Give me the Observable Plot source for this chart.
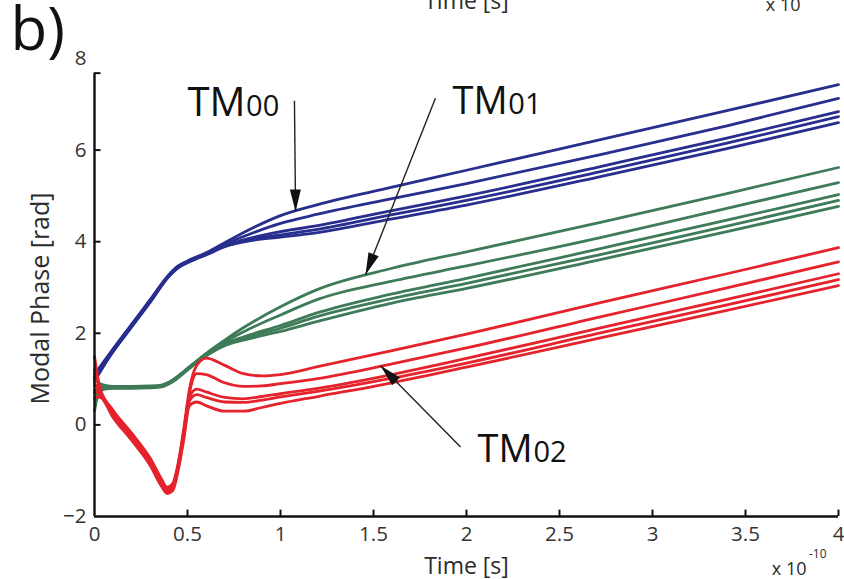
<!DOCTYPE html>
<html><head><meta charset="utf-8">
<script src="https://cdn.jsdelivr.net/npm/d3@7"></script>
<script src="https://cdn.jsdelivr.net/npm/@observablehq/plot@0.6"></script>
<style>body{margin:0;background:#fff;} svg{display:block}</style>
</head><body><div id="chart"></div>
<script>
// ---- ticks ----
const xTicks = [0, 0.5, 1, 1.5, 2, 2.5, 3, 3.5, 4];
const yTicks = [-2, 0, 2, 4, 6, 8];
const yAxisTop = 7.68;

// ---- series (time in 1e-10 s, phase in rad) ----
const tBlue = [0, 0.1, 0.2, 0.3, 0.4, 0.45, 0.5, 0.55, 0.6, 0.7, 0.85, 1.0, 1.2, 1.6, 2.0, 2.72, 3.4, 4.0];
const blueLines = [
  [1.1, 1.66, 2.2, 2.74, 3.28, 3.47, 3.58, 3.67, 3.76, 3.98, 4.30, 4.57, 4.81, 5.19, 5.56, 6.23, 6.86, 7.43],
  [1.05, 1.64, 2.18, 2.72, 3.27, 3.46, 3.57, 3.66, 3.74, 3.94, 4.19, 4.40, 4.60, 4.94, 5.27, 5.90, 6.53, 7.13],
  [1.0, 1.62, 2.16, 2.70, 3.26, 3.45, 3.56, 3.65, 3.73, 3.91, 4.09, 4.22, 4.35, 4.68, 5.00, 5.64, 6.26, 6.84],
  [0.95, 1.61, 2.15, 2.69, 3.25, 3.44, 3.55, 3.64, 3.72, 3.90, 4.06, 4.15, 4.27, 4.59, 4.90, 5.53, 6.15, 6.73],
  [1.0, 1.60, 2.14, 2.68, 3.24, 3.43, 3.54, 3.63, 3.71, 3.89, 4.03, 4.10, 4.20, 4.50, 4.80, 5.42, 6.03, 6.60]
];
const tGreen = [0, 0.03, 0.1, 0.2, 0.3, 0.36, 0.42, 0.48, 0.55, 0.62, 0.7, 0.8, 1.0, 1.2, 1.6, 2.0, 2.72, 3.4, 4.0];
const greenLines = [
  [1.0, 0.9, 0.84, 0.84, 0.85, 0.87, 0.98, 1.17, 1.40, 1.62, 1.85, 2.12, 2.58, 2.96, 3.42, 3.78, 4.42, 5.05, 5.62],
  [0.85, 0.87, 0.83, 0.83, 0.84, 0.86, 0.97, 1.16, 1.39, 1.60, 1.81, 2.03, 2.40, 2.74, 3.14, 3.47, 4.09, 4.73, 5.29],
  [0.7, 0.82, 0.82, 0.82, 0.83, 0.85, 0.96, 1.15, 1.38, 1.58, 1.77, 1.92, 2.17, 2.45, 2.86, 3.20, 3.85, 4.47, 5.03],
  [0.55, 0.8, 0.81, 0.81, 0.82, 0.84, 0.95, 1.14, 1.37, 1.57, 1.75, 1.89, 2.11, 2.37, 2.76, 3.09, 3.72, 4.34, 4.90],
  [0.3, 0.76, 0.80, 0.80, 0.81, 0.83, 0.94, 1.13, 1.36, 1.56, 1.73, 1.85, 2.04, 2.26, 2.66, 2.98, 3.61, 4.22, 4.77]
];
const tRed = [0, 0.03, 0.1, 0.2, 0.3, 0.36, 0.39, 0.42, 0.45, 0.48, 0.51, 0.55, 0.6, 0.7, 0.8, 0.9, 1.0, 1.2, 1.6, 2.0, 2.72, 3.4, 4.0];
const redLines = [
  [1.5, 0.80, 0.32, -0.18, -0.73, -1.18, -1.36, -1.28, -0.83, -0.08, 0.77, 1.3, 1.46, 1.3, 1.12, 1.07, 1.1, 1.27, 1.62, 1.98, 2.67, 3.3, 3.87],
  [1.2, 0.75, 0.28, -0.22, -0.77, -1.22, -1.40, -1.32, -0.87, -0.14, 0.68, 1.12, 1.1, 0.92, 0.84, 0.85, 0.9, 1.01, 1.33, 1.68, 2.36, 2.99, 3.56],
  [0.9, 0.7, 0.24, -0.26, -0.81, -1.26, -1.44, -1.36, -0.91, -0.2, 0.6, 0.78, 0.72, 0.6, 0.57, 0.62, 0.68, 0.80, 1.1, 1.45, 2.12, 2.74, 3.30],
  [0.75, 0.65, 0.20, -0.30, -0.85, -1.30, -1.47, -1.40, -0.95, -0.26, 0.52, 0.66, 0.6, 0.5, 0.49, 0.54, 0.61, 0.73, 1.02, 1.35, 2.01, 2.62, 3.17],
  [0.6, 0.60, 0.16, -0.34, -0.89, -1.34, -1.50, -1.44, -0.99, -0.32, 0.42, 0.5, 0.42, 0.3, 0.3, 0.38, 0.47, 0.62, 0.92, 1.26, 1.90, 2.50, 3.04]
];
const modes = ["TM00", "TM01", "TM02"];
const modeColors = ["#282e8e", "#3e7b58", "#e5232c"];

// ---- annotations (data units) ----
const labelMain = [
  {t: 0.50, v: 6.75, size: 40},
  {t: 1.925, v: 6.78, size: 38},
  {t: 2.059, v: -0.81, size: 38}
];
const labelSub = [
  {text: "00", t: 0.815, v: 6.75, size: 29},
  {text: "01", t: 2.225, v: 6.78, size: 29},
  {text: "02", t: 2.36, v: -0.81, size: 29}
];
const arrows = [
  {t1: 1.075, v1: 7.08, t2: 1.081, v2: 4.66},
  {t1: 1.833, v1: 7.13, t2: 1.457, v2: 3.28},
  {t1: 1.968, v1: -0.48, t2: 1.538, v2: 1.29}
];

// ---- build table ----
const rows = [];
function addMode(mode, ts, lines) {
  lines.forEach((vals, i) => vals.forEach((v, j) => rows.push({mode, line: mode + "-" + i, t: ts[j], phase: v})));
}
addMode(modes[0], tBlue, blueLines);
addMode(modes[1], tGreen, greenLines);
addMode(modes[2], tRed, redLines);

const W = 844, H = 579, mL = 94, mR = 6, mT = 58, mB = 63;
const xDom = [0, 4], yDom = [-2, 8];
const pxX = (W - mL - mR) / (xDom[1] - xDom[0]);
const pxY = (H - mT - mB) / (yDom[1] - yDom[0]);
arrows.forEach(a => {
  const dx = (a.t2 - a.t1) * pxX, dy = -(a.v2 - a.v1) * pxY;
  a.angle = Math.atan2(dx, -dy) * 180 / Math.PI;
});
const headShape = {draw(ctx, l) { ctx.moveTo(0, -l); ctx.lineTo(-5.5, 0); ctx.lineTo(5.5, 0); ctx.closePath(); }};

const font = "'Open Sans', 'Noto Sans', sans-serif";
const ink = "#2b2b2b";

const plot = Plot.plot({
  width: W, height: H,
  marginLeft: mL, marginRight: mR, marginTop: mT, marginBottom: mB,
  x: {domain: xDom},
  y: {domain: yDom},
  color: {domain: modes, range: modeColors},
  style: {fontFamily: font, fontSize: "20.5px", color: "#333", background: "#fff", overflow: "visible"},
  marks: [
    Plot.line(rows, {x: "t", y: "phase", z: "line", stroke: "mode", strokeWidth: 2.8, curve: "monotone-x"}),
    // axes lines
    Plot.ruleX([0], {y1: -2, y2: yAxisTop, stroke: "#111", strokeWidth: 2.4}),
    Plot.ruleY([-2], {x1: 0, x2: 4, stroke: "#111", strokeWidth: 2.4}),
    // inward ticks
    Plot.ruleY([0, 2, 4, 6, yAxisTop], {x1: 0, x2: 0.035, stroke: "#111", strokeWidth: 2}),
    Plot.ruleX(xTicks.slice(1), {y1: -2, y2: -1.86, stroke: "#111", strokeWidth: 2}),
    Plot.axisX({ticks: xTicks, tickSize: 0, tickPadding: 10, label: null, tickFormat: d => String(d)}),
    Plot.axisY({ticks: yTicks, tickSize: 0, tickPadding: 8, label: null}),
    // axis titles
    Plot.text(["Time [s]"], {frameAnchor: "bottom", dy: 57, lineAnchor: "bottom", fontSize: 23, fill: ink}),
    Plot.text(["Modal Phase [rad]"], {frameAnchor: "left", dx: -54, dy: 11, rotate: -90, textAnchor: "middle", lineAnchor: "middle", fontSize: 25, fill: ink}),
    Plot.text(["x 10"], {frameAnchor: "bottom-right", dx: -32, dy: 58, textAnchor: "end", lineAnchor: "bottom", fontSize: 18, fill: ink}),
    Plot.text(["-10"], {frameAnchor: "bottom-right", dx: -12, dy: 41, textAnchor: "end", lineAnchor: "bottom", fontSize: 12, fill: ink}),
    // cut-off text from panel above
    Plot.text(["Time [s]"], {frameAnchor: "top", dy: -50, lineAnchor: "bottom", fontSize: 23, fill: ink}),
    Plot.text(["x 10"], {frameAnchor: "top-right", dx: -38, dy: -48, textAnchor: "end", lineAnchor: "bottom", fontSize: 18, fill: ink}),
    // panel letter
    Plot.text(["b)"], {frameAnchor: "top-left", dx: -84, dy: -51, textAnchor: "start", lineAnchor: "top", fontSize: 60, fill: "#111"}),
    // annotations
    Plot.link(arrows, {x1: "t1", y1: "v1", x2: "t2", y2: "v2", stroke: "#222", strokeWidth: 1.4}),
    Plot.vector(arrows, {x: "t2", y: "v2", rotate: "angle", length: 22, anchor: "end", shape: headShape, fill: "#111", stroke: "none"}),
    Plot.text(labelMain, {x: "t", y: "v", text: () => "TM", fontSize: d => d.size, textAnchor: "start", lineAnchor: "bottom", fill: "#111"}),
    Plot.text(labelSub, {x: "t", y: "v", text: "text", fontSize: d => d.size, textAnchor: "start", lineAnchor: "bottom", fill: "#111"})
  ]
});
document.getElementById("chart").appendChild(plot);
</script>
</body></html>
